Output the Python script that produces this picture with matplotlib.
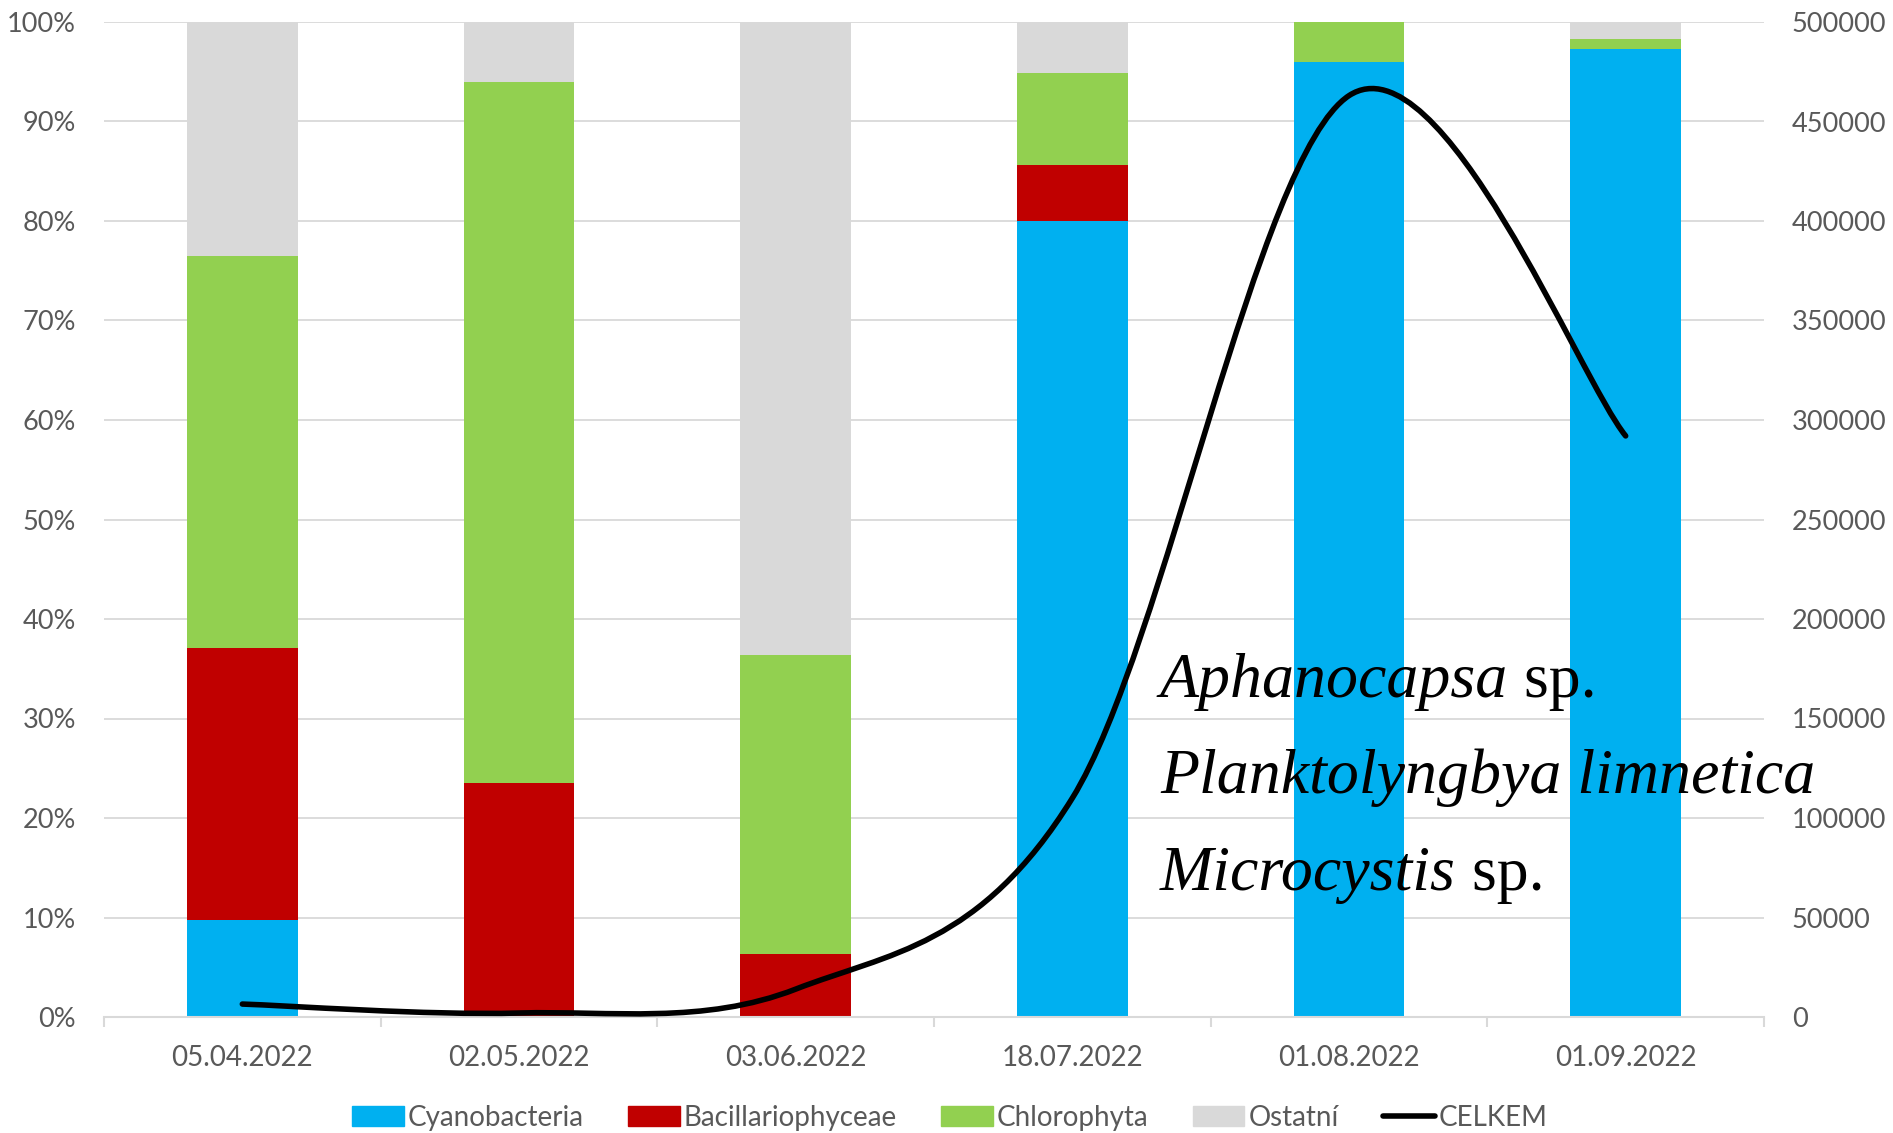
import matplotlib
matplotlib.use('Agg')

import matplotlib.pyplot as plt
import numpy as np
from matplotlib.path import Path
from matplotlib.patches import PathPatch
from matplotlib.lines import Line2D
from matplotlib.ticker import PercentFormatter

plt.rcParams.update({
    'font.family': ['Lato', 'DejaVu Sans'],
    'figure.facecolor': 'white',
})

# data
dates = ['05.04.2022', '02.05.2022', '03.06.2022', '18.07.2022', '01.08.2022', '01.09.2022']
cyano = [9.7, 0.0, 0.0, 80.0, 96.0, 97.3]
bacil = [27.4, 23.5, 6.3, 5.6, 0.0, 0.0]
chloro = [39.4, 70.5, 30.1, 9.3, 4.0, 1.0]
ostatni = [23.5, 6.0, 63.6, 5.1, 0.0, 1.7]
celkem = [6500, 2000, 14000, 110000, 463000, 292000]

series = [
    ('Cyanobacteria', cyano, '#00B0F0'),
    ('Bacillariophyceae', bacil, '#C00000'),
    ('Chlorophyta', chloro, '#92D050'),
    ('Ostatní', ostatni, '#D9D9D9'),
]

_GRID = '#D9D9D9'
_TXT = '#595959'
_LW = 4.0

W, H = 1893, 1133
fig = plt.figure(figsize=(W / 100, H / 100), dpi=100)
ax = fig.add_axes([104 / W, 1 - 1017 / H, (1764 - 104) / W, (1017 - 22) / H])

x = np.arange(len(dates))
bottom = np.zeros(len(dates))
for name, vals, col in series:
    ax.bar(x, vals, bottom=bottom, width=0.40, color=col, label=name, zorder=2)
    bottom += np.array(vals)

ax.set_xlim(-0.5, len(dates) - 0.5)
ax.set_ylim(0, 100)
ax.set_yticks(np.arange(0, 101, 10))
ax.yaxis.set_major_formatter(PercentFormatter(decimals=0))
ax.grid(axis='y', color=_GRID, lw=1.3, zorder=0)
ax.set_axisbelow(True)
for s in ['top', 'left', 'right']:
    ax.spines[s].set_visible(False)
ax.spines['bottom'].set_color(_GRID)
ax.spines['bottom'].set_linewidth(1.5)
ax.set_xticks(x)
ax.set_xticklabels(dates)
ax.set_xticks(np.arange(-0.5, len(dates), 1.0), minor=True)
ax.tick_params(axis='x', which='major', length=0, pad=20, labelsize=20, labelcolor=_TXT)
ax.tick_params(axis='x', which='minor', length=7, width=1.5, color=_GRID)
ax.tick_params(axis='y', length=0, pad=20, labelsize=19.5, labelcolor=_TXT)

# secondary axis: total cell count, Excel-style smoothed line
ax2 = ax.twinx()
ax2.set_ylim(0, 500000)
ax2.set_yticks(np.arange(0, 500001, 50000))
for s in ax2.spines.values():
    s.set_visible(False)
ax2.tick_params(axis='y', length=0, pad=20, labelsize=19.5, labelcolor=_TXT)

pts = np.column_stack([x, celkem]).astype(float)
ext = np.vstack([pts[0], pts, pts[-1]])
verts = [tuple(pts[0])]
codes = [Path.MOVETO]
for i in range(len(pts) - 1):
    p0, p1, p2, p3 = ext[i], ext[i + 1], ext[i + 2], ext[i + 3]
    c1 = p1 + (p2 - p0) / 6
    c2 = p2 - (p3 - p1) / 6
    verts += [tuple(c1), tuple(c2), tuple(p2)]
    codes += [Path.CURVE4] * 3
ax2.add_patch(PathPatch(Path(verts, codes), fill=False, ec='black', lw=_LW,
                        capstyle='round', joinstyle='round', zorder=5))

# species annotation
serif = 'Liberation Serif'
fs = 46
lines = [('Aphanocapsa', ' sp.', 697), ('Planktolyngbya limnetica', '', 793), ('Microcystis', ' sp.', 890)]
for ital, rest, yb in lines:
    t = fig.text(1160 / W, 1 - yb / H, ital, family=serif, style='italic',
                 fontsize=fs, va='baseline', ha='left')
    if rest:
        fig.canvas.draw()
        bb = t.get_window_extent()
        fig.text(bb.x1 / W, 1 - yb / H, rest, family=serif, fontsize=fs,
                 va='baseline', ha='left')

# legend
handles = [plt.Rectangle((0, 0), 1, 1, color=c) for _, _, c in series]
handles.append(Line2D([0], [0], color='black', lw=_LW, solid_capstyle='round'))
labels = [n for n, _, _ in series] + ['CELKEM']
fig.legend(handles, labels, loc='center', bbox_to_anchor=(950 / W, 1 - 1118 / H),
           ncol=5, frameon=False, fontsize=20, labelcolor=_TXT,
           handlelength=1.85, handleheight=0.75, handletextpad=0.15, columnspacing=1.6)

fig.savefig('out.png', dpi=100)
